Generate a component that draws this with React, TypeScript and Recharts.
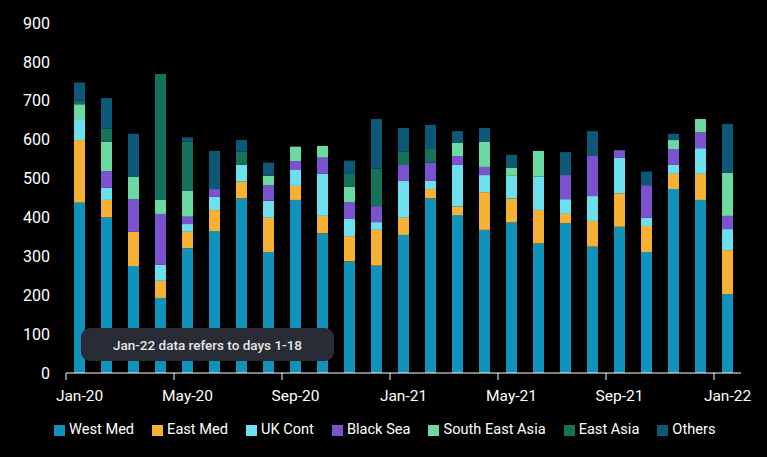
import { BarChart, Bar, XAxis, YAxis, Legend } from "recharts";

const months = [
  "Jan-20", "Feb-20", "Mar-20", "Apr-20", "May-20", "Jun-20", "Jul-20", "Aug-20",
  "Sep-20", "Oct-20", "Nov-20", "Dec-20", "Jan-21", "Feb-21", "Mar-21", "Apr-21",
  "May-21", "Jun-21", "Jul-21", "Aug-21", "Sep-21", "Oct-21", "Nov-21", "Dec-21",
  "Jan-22",
];

const westMed = [438, 400, 275, 193, 321, 365, 449, 311, 445, 359, 287, 276, 355, 449, 406, 368, 387, 333, 385, 325, 376, 311, 473, 445, 203];
const eastMed = [161, 45, 88, 44, 42, 54, 43, 88, 36, 45, 65, 92, 44, 24, 22, 97, 62, 86, 24, 66, 86, 67, 39, 67, 113];
const ukCont = [54, 31, 0, 41, 20, 34, 43, 44, 41, 108, 44, 20, 95, 21, 107, 44, 58, 86, 38, 64, 92, 21, 23, 66, 54];
const blackSea = [0, 43, 84, 131, 19, 20, 0, 40, 23, 42, 43, 41, 41, 47, 23, 21, 0, 0, 62, 103, 19, 84, 41, 41, 34];
const seAsia = [38, 76, 58, 36, 67, 0, 0, 24, 37, 30, 40, 0, 0, 0, 34, 65, 21, 66, 0, 0, 0, 0, 23, 34, 111];
const eastAsia = [10, 34, 0, 324, 126, 0, 34, 0, 0, 0, 33, 97, 34, 35, 0, 0, 0, 0, 0, 0, 0, 0, 0, 0, 0];
const others = [46, 78, 110, 0, 11, 98, 30, 34, 0, 0, 34, 127, 61, 62, 30, 35, 33, 0, 59, 64, 0, 35, 16, 0, 125];

const yTicks = [0, 100, 200, 300, 400, 500, 600, 700, 800, 900];

const series = [
  { key: "westMed", name: "West Med", color: "#1192BA", values: westMed },
  { key: "eastMed", name: "East Med", color: "#F6B034", values: eastMed },
  { key: "ukCont", name: "UK Cont", color: "#6CE0EF", values: ukCont },
  { key: "blackSea", name: "Black Sea", color: "#7C53CF", values: blackSea },
  { key: "seAsia", name: "South East Asia", color: "#6CD9A2", values: seAsia },
  { key: "eastAsia", name: "East Asia", color: "#14725A", values: eastAsia },
  { key: "others", name: "Others", color: "#0E5877", values: others },
];

const data = months.map((m, i) => {
  const row: Record<string, string | number> = { month: m };
  series.forEach((s) => {
    row[s.key] = s.values[i];
  });
  return row;
});

const FONT = "Roboto, 'Noto Sans', sans-serif";

// tick marks sit on the band edge, labels stay centred under the bar
const MonthTick = (props: any) => {
  const { x, y, payload } = props;
  return (
    <g>
      <line x1={x - 13.5} x2={x - 13.5} y1={y} y2={y + 7} stroke="#fff" strokeWidth={1} />
      <text x={x} y={y + 28} textAnchor="middle" fill="#fff" fontSize={15.5} fontFamily={FONT}>
        {payload.value}
      </text>
    </g>
  );
};

const seriesOrder = series.map((s) => s.name);

const renderLegend = (props: any) => {
  const payload = [...(props.payload || [])].sort(
    (a: any, b: any) => seriesOrder.indexOf(a.value) - seriesOrder.indexOf(b.value)
  );
  return (
    <div style={{ display: "flex", alignItems: "center", fontFamily: FONT, fontSize: 14.6, color: "#fff" }}>
      {payload.map((entry: any) => (
        <div key={entry.value} style={{ display: "flex", alignItems: "center", marginRight: 18 }}>
          <span style={{ display: "inline-block", width: 11, height: 11, background: entry.color, marginRight: 4, marginTop: 3 }} />
          <span>{entry.value}</span>
        </div>
      ))}
    </div>
  );
};

export default function App() {
  return (
    <div style={{ position: "fixed", left: 0, top: 0, width: 767, height: 457, background: "#000" }}>
      <BarChart
        width={767}
        height={457}
        data={data}
        margin={{ top: 23, right: 26, left: 0, bottom: 30 }}
      >
        <XAxis
          dataKey="month"
          interval={3}
          tickLine={false}
          tickSize={0}
          tickMargin={0}
          height={30}
          axisLine={{ stroke: "#fff", strokeWidth: 1 }}
          tick={<MonthTick />}
        />
        <YAxis
          width={66}
          domain={[0, 900]}
          ticks={yTicks}
          axisLine={false}
          tickLine={false}
          tickSize={0}
          tickMargin={16}
          tick={{ fill: "#fff", fontSize: 16, fontFamily: FONT }}
        />
        <Legend
          verticalAlign="bottom"
          content={renderLegend}
          wrapperStyle={{ top: 420, left: 54, width: 700, height: 24 }}
        />
        {series.map((s) => (
          <Bar
            key={s.key}
            dataKey={s.key}
            name={s.name}
            stackId="a"
            fill={s.color}
            barSize={11}
            isAnimationActive={false}
          />
        ))}
      </BarChart>
      <div
        style={{
          position: "absolute",
          left: 81,
          top: 328,
          width: 253,
          height: 33,
          borderRadius: 9,
          background: "#2A2C35",
          color: "#E6E6E6",
          fontFamily: FONT,
          fontSize: 13.5,
          fontWeight: 500,
          display: "flex",
          alignItems: "center",
          justifyContent: "center",
        }}
      >
        Jan-22 data refers to days 1-18
      </div>
    </div>
  );
}
